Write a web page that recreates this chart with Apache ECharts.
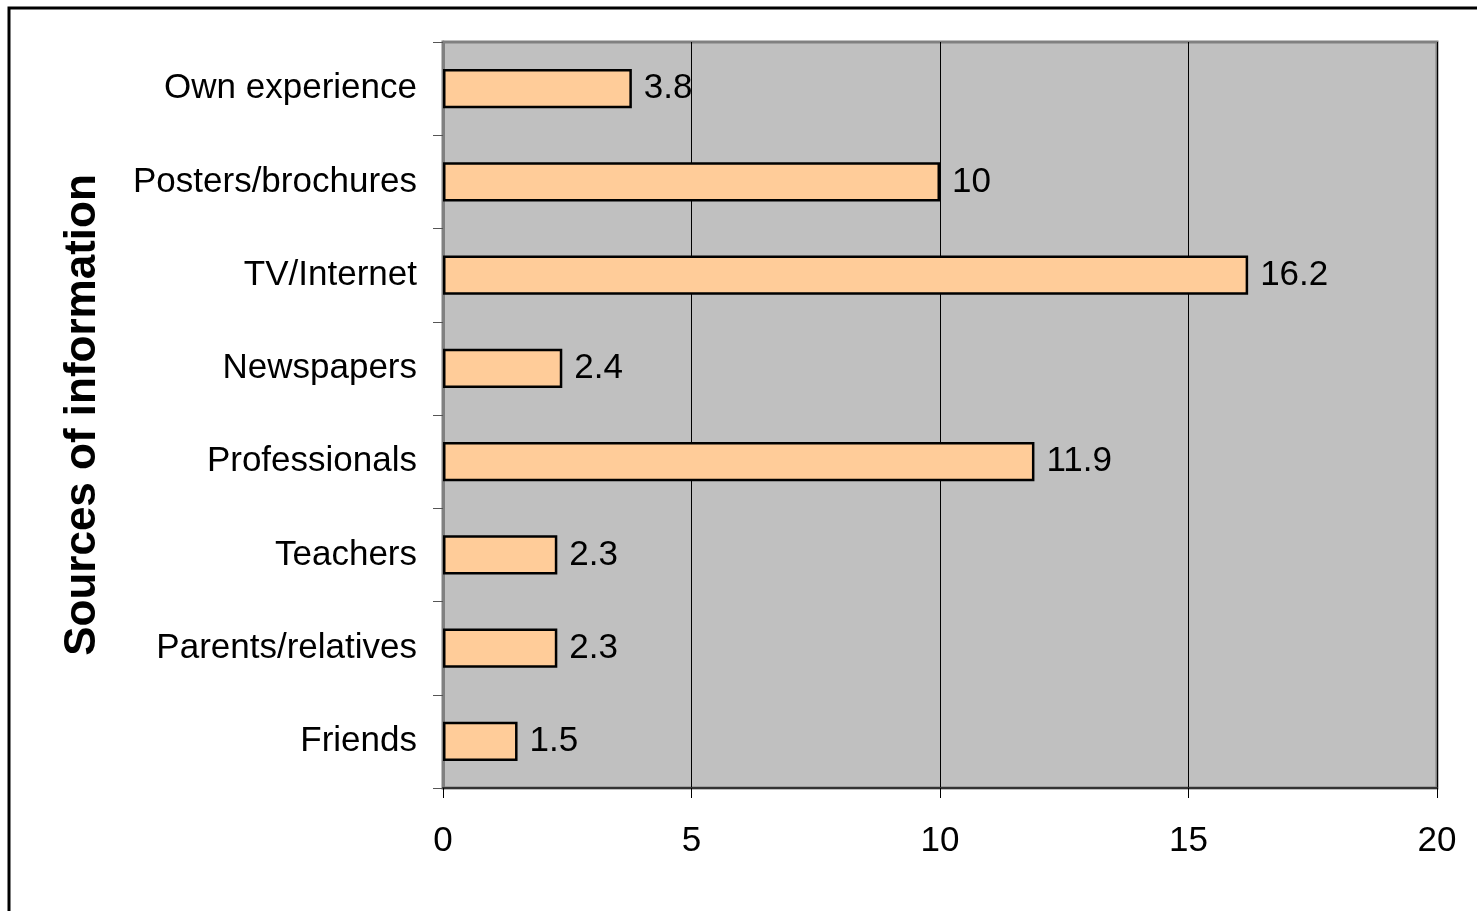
<!DOCTYPE html>
<html><head><meta charset="utf-8">
<script src="https://cdn.jsdelivr.net/npm/echarts@6/dist/echarts.min.js"></script>
<style>html,body{margin:0;padding:0;background:#fff}#c{width:1477px;height:911px}</style>
</head><body><div id="c"></div>
<script>
const categories = ['Friends','Parents/relatives','Teachers','Professionals','Newspapers','TV/Internet','Posters/brochures','Own experience'];
const values = [1.5, 2.3, 2.3, 11.9, 2.4, 16.2, 10, 3.8];
const xTicks = [0, 5, 10, 15, 20];
const yTitle = 'Sources of information';

const chart = echarts.init(document.getElementById('c'));
chart.setOption({
  animation: false,
  graphic: [{type:'rect', shape:{x:9, y:8, width:1500, height:950}, style:{fill:'none', stroke:'#000', lineWidth:3}, z:-10}],
  grid: {left:443, right:40, top:42, bottom:123, show:true, backgroundColor:'#C0C0C0', borderColor:'#808080', borderWidth:3},
  xAxis: {type:'value', min:xTicks[0], max:xTicks[xTicks.length-1], interval:5,
    axisLine:{show:true, onZero:false, lineStyle:{color:'#333', width:2}},
    axisTick:{show:true, length:10, lineStyle:{color:'#000', width:1}},
    axisLabel:{fontFamily:'Liberation Sans, Arial', fontSize:35, color:'#000', margin:36},
    splitLine:{show:true, lineStyle:{color:'#000', width:1}}},
  yAxis: {type:'category', data:categories, name:yTitle, nameLocation:'middle', nameGap:338,
    nameTextStyle:{fontFamily:'Liberation Sans, Arial', fontSize:44, fontWeight:'bold', color:'#000'},
    axisLine:{show:true, lineStyle:{color:'#808080', width:3}},
    axisTick:{show:true, length:10, lineStyle:{color:'#555', width:1}},
    axisLabel:{fontFamily:'Liberation Sans, Arial', fontSize:35, color:'#000', margin:26}},
  series: [{type:'bar', data:values, barWidth:'42%',
    itemStyle:{color:'#FFCC99', borderColor:'#000', borderWidth:2.5},
    label:{show:true, position:'right', distance:12, fontFamily:'Liberation Sans, Arial', fontSize:35, color:'#000'}}]
});
</script></body></html>
